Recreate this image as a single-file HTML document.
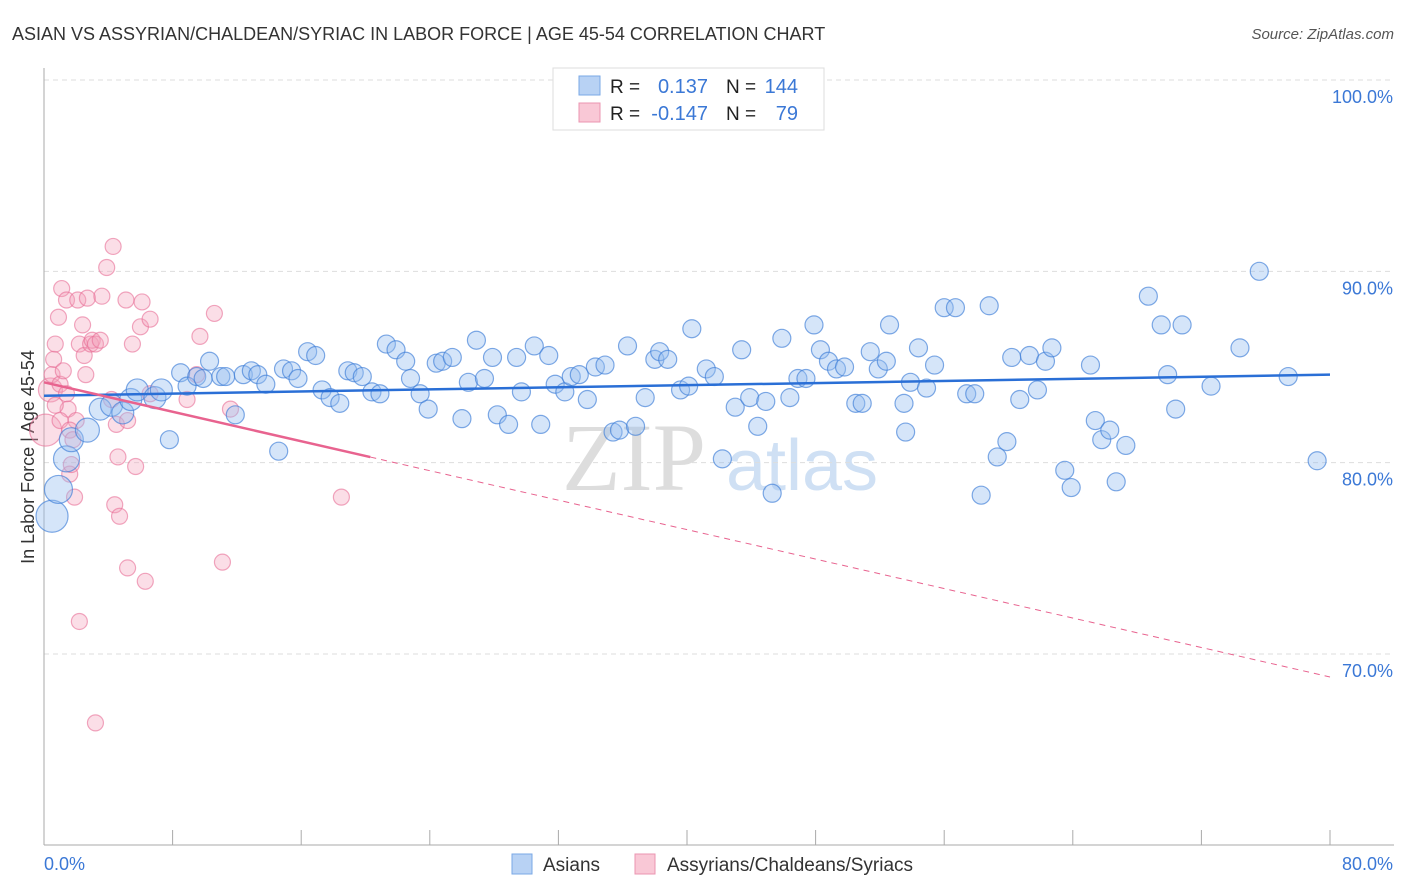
<!DOCTYPE html>
<html><head><meta charset="utf-8"><style>
body{margin:0;background:#fff;font-family:"Liberation Sans",sans-serif}
svg{display:block}
</style></head><body>
<svg id="c" width="1406" height="892" xmlns="http://www.w3.org/2000/svg">
<text x="12" y="40" font-size="18" fill="#333">ASIAN VS ASSYRIAN/CHALDEAN/SYRIAC IN LABOR FORCE | AGE 45-54 CORRELATION CHART</text>
<text x="1394" y="39" font-size="15" fill="#555" text-anchor="end" font-style="italic">Source: ZipAtlas.com</text>
<text x="634" y="490" font-size="96" fill="#ddd" font-family="Liberation Serif,serif" text-anchor="middle">ZIP</text>
<text x="802" y="490" font-size="72" fill="#cfe0f4" text-anchor="middle">atlas</text>
<text transform="translate(34,457) rotate(-90)" font-size="18" fill="#333" text-anchor="middle">In Labor Force | Age 45-54</text>
<g id="grid"></g><g id="pts"></g><g id="lines"></g>
<g>
<rect x="553" y="68" width="271" height="62" fill="#fff" stroke="#ddd"/>
<rect x="579" y="76" width="21" height="19" fill="#b8d2f4" stroke="#7aa8e6"/>
<rect x="579" y="103" width="21" height="19" fill="#f9c8d6" stroke="#eb95b0"/>
<text x="610" y="93" font-size="19" fill="#222">R =</text><text x="708" y="93" font-size="20" fill="#3b78d6" text-anchor="end">0.137</text>
<text x="726" y="93" font-size="19" fill="#222">N =</text><text x="798" y="93" font-size="20" fill="#3b78d6" text-anchor="end">144</text>
<text x="610" y="120" font-size="19" fill="#222">R =</text><text x="708" y="120" font-size="20" fill="#3b78d6" text-anchor="end">-0.147</text>
<text x="726" y="120" font-size="19" fill="#222">N =</text><text x="798" y="120" font-size="20" fill="#3b78d6" text-anchor="end">79</text>
</g>
<g>
<rect x="512" y="854" width="20" height="20" fill="#b8d2f4" stroke="#7aa8e6"/>
<text x="543" y="871" font-size="19" fill="#333">Asians</text>
<rect x="635" y="854" width="20" height="20" fill="#f9c8d6" stroke="#eb95b0"/>
<text x="667" y="871" font-size="19" fill="#333">Assyrians/Chaldeans/Syriacs</text>
</g>
</svg>
<script>
const yTicks=[70,80,90,100];
const xTickLabels=["0.0%","80.0%"];
const asianX=[0.5,0.9,1.4,1.7,2.7,3.5,4.2,4.9,5.4,5.8,6.9,7.3,7.8,8.5,8.9,9.5,9.9,10.3,11.0,11.3,11.9,12.4,12.9,13.3,13.8,14.6,14.9,15.4,15.8,16.4,16.9,17.3,17.8,18.4,18.9,19.3,19.8,20.4,20.9,21.3,21.9,22.5,22.8,23.4,23.9,24.4,24.8,25.4,26.0,26.4,26.9,27.4,27.9,28.2,28.9,29.4,29.7,30.5,30.9,31.4,31.8,32.4,32.8,33.3,33.8,34.3,34.9,35.4,35.8,36.3,36.8,37.4,38.0,38.3,38.8,39.6,40.1,40.3,41.2,41.7,42.2,43.0,43.4,43.9,44.4,44.9,45.3,45.9,46.4,46.9,47.4,47.9,48.3,48.8,49.3,49.8,50.5,50.9,51.4,51.9,52.4,52.6,53.5,53.6,53.9,54.4,54.9,55.4,56.0,56.7,57.4,57.9,58.3,58.8,59.3,59.9,60.2,60.7,61.3,61.8,62.3,62.7,63.5,63.9,65.1,65.4,65.8,66.3,66.7,67.3,68.7,69.5,69.9,70.4,70.8,72.6,74.4,75.6,77.4,79.2];
const asianY=[77.2,78.6,80.2,81.2,81.7,82.8,83.0,82.6,83.3,83.8,83.4,83.8,81.2,84.7,84.0,84.5,84.4,85.3,84.5,84.5,82.5,84.6,84.8,84.6,84.1,80.6,84.9,84.8,84.4,85.8,85.6,83.8,83.4,83.1,84.8,84.7,84.5,83.7,83.6,86.2,85.9,85.3,84.4,83.6,82.8,85.2,85.3,85.5,82.3,84.2,86.4,84.4,85.5,82.5,82.0,85.5,83.7,86.1,82.0,85.6,84.1,83.7,84.5,84.6,83.3,85.0,85.1,81.6,81.7,86.1,81.9,83.4,85.4,85.8,85.4,83.8,84.0,87.0,84.9,84.5,80.2,82.9,85.9,83.4,81.9,83.2,78.4,86.5,83.4,84.4,84.4,87.2,85.9,85.3,84.9,85.0,83.1,83.1,85.8,84.9,85.3,87.2,83.1,81.6,84.2,86.0,83.9,85.1,88.1,88.1,83.6,83.6,78.3,88.2,80.3,81.1,85.5,83.3,85.6,83.8,85.3,86.0,79.6,78.7,85.1,82.2,81.2,81.7,79.0,80.9,88.7,87.2,84.6,82.8,87.2,84.0,86.0,90.0,84.5,80.1];
const asianSize=[16,14,13,12,12,11,11,11,11,11,11,11];
const syrX=[0.1,0.4,0.5,0.6,0.7,0.9,1.0,1.1,1.2,1.4,1.5,1.6,1.7,1.9,1.4,2.0,2.1,2.2,2.2,2.4,2.5,2.6,2.7,2.9,3.0,3.2,3.2,3.5,3.6,3.9,4.3,4.2,4.4,4.5,4.6,4.7,5.1,5.2,5.2,5.5,5.7,6.0,6.1,6.3,6.6,6.6,8.9,9.5,9.7,10.6,11.1,11.6,18.5,0.7,1.0,1.6,1.8];
const syrY=[81.7,83.8,84.6,85.4,86.2,87.6,84.1,89.1,84.8,83.6,82.8,79.4,79.9,78.2,88.5,82.2,88.5,86.2,71.7,87.2,85.6,84.6,88.6,86.2,86.4,66.4,86.2,86.4,88.7,90.2,91.3,83.3,77.8,82.0,80.3,77.2,88.5,82.2,74.5,86.2,79.8,87.1,88.4,73.8,87.5,83.6,83.3,84.6,86.6,87.8,74.8,82.8,78.2,83.0,82.2,81.7,81.2];
const syrSize=[16,12];
const asianTrend=[83.5,84.6];
const syrTrendSolid=[0,20.3];
const syrTrend=[84.2,68.8];
const L=44,R=1330,T0=100,Y100=80,Y70=654;
const sx=v=>L+(R-L)*v/80;
const sy=v=>Y100+(100-v)*(Y70-Y100)/30;
const NS="http://www.w3.org/2000/svg";
function mk(p,t,a){const e=document.createElementNS(NS,t);for(const k in a)e.setAttribute(k,a[k]);p.appendChild(e);return e;}
const g=document.getElementById('grid');
yTicks.forEach(v=>{
 const ln=mk(g,'line',{x1:L,x2:1394,y1:sy(v),y2:sy(v),stroke:'#ddd','stroke-dasharray':'5,4'});
 
 
 const t=mk(g,'text',{x:1393,y:sy(v)+23,'font-size':18,fill:'#3b78d6','text-anchor':'end'});
 t.textContent=v.toFixed(1)+'%';
 
 
});
const ax=mk(g,'line',{x1:L,x2:L,y1:68,y2:845,stroke:'#aaa'});


const bx=mk(g,'line',{x1:L,x2:1394,y1:845,y2:845,stroke:'#aaa'});


for(let i=0;i<=10;i++){
 const tk=mk(g,'line',{x1:sx(i*8),x2:sx(i*8),y1:830,y2:845,stroke:'#aaa'});
 
 
}
[[0,'start'],[80,'end']].forEach((d,i)=>{
 const t=mk(g,'text',{x:i?1393:44,y:870,'font-size':18,fill:'#3b78d6','text-anchor':d[1]});
 t.textContent=xTickLabels[i];
 
 
});
const P=document.getElementById('pts');
syrX.forEach((x,i)=>{
 const c=mk(P,'circle',{cx:sx(x),cy:sy(syrY[i]),r:syrSize[i]||8,fill:'rgba(244,160,186,0.35)',stroke:'rgba(232,110,150,0.6)','stroke-width':1.2});
 
 
});
asianX.forEach((x,i)=>{
 const c=mk(P,'circle',{cx:sx(x),cy:sy(asianY[i]),r:asianSize[i]||9,fill:'rgba(150,190,240,0.4)',stroke:'rgba(60,125,215,0.65)','stroke-width':1.2});
 
 
});
const Ln=document.getElementById('lines');
const a=mk(Ln,'line',{x1:sx(0),y1:sy(asianTrend[0]),x2:sx(80),y2:sy(asianTrend[1]),stroke:'#2a6fd6','stroke-width':2.5});


const f=x=>syrTrend[0]+(syrTrend[1]-syrTrend[0])*x/80;
const s1=mk(Ln,'line',{x1:sx(0),y1:sy(f(0)),x2:sx(syrTrendSolid[1]),y2:sy(f(syrTrendSolid[1])),stroke:'#e8638f','stroke-width':2.5});


const s2=mk(Ln,'line',{x1:sx(syrTrendSolid[1]),y1:sy(f(syrTrendSolid[1])),x2:sx(80),y2:sy(f(80)),stroke:'#e8638f','stroke-width':1,'stroke-dasharray':'6,5'});


</script>
</body></html>
